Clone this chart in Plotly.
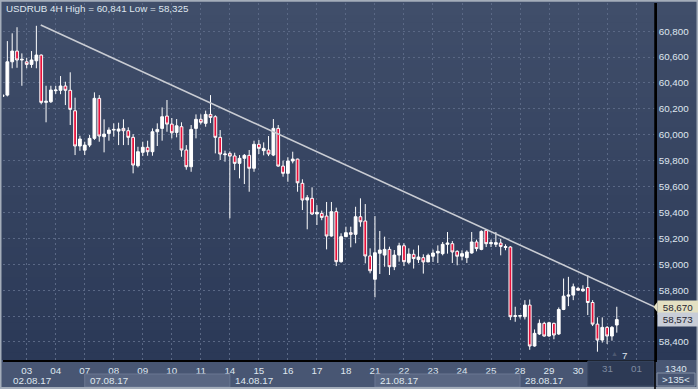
import plotly.graph_objects as go

# ---------------- data (USDRUB, 4H candles, 02.08.17 - 31.08.17) ----------------
opens = [60296, 60306, 60563, 60646, 60577, 60563, 60543, 60571, 60615, 60250,
         60255, 60340, 60343, 60376, 60343, 60185, 59913, 59881, 59920, 59972,
         60281, 59985, 60010, 60036, 60028, 60049, 60031, 59980, 59761, 59864,
         59903, 59869, 60023, 60049, 60144, 60082, 60018, 60062, 59882, 59753,
         60049, 60119, 60088, 60157, 60139, 59980, 59846, 59856, 59836, 59779,
         59818, 59841, 59741, 59926, 59877, 59882, 59843, 60049, 59758, 59702,
         59797, 59812, 59625, 59496, 59509, 59388, 59393, 59372, 59218, 59406,
         59020, 59213, 59244, 59231, 59367, 59334, 59064, 58884, 59085, 59071,
         59115, 58981, 59071, 59143, 59015, 59077, 59036, 59051, 59018, 59062,
         59087, 59082, 59154, 59159, 59100, 59062, 59051, 59087, 59172, 59115,
         59262, 59159, 59154, 59164, 59130, 59133, 58597, 58600, 58595, 58685,
         58369, 58462, 58544, 58446, 58544, 58462, 58651, 58754, 58762, 58813,
         58795, 58821, 58705, 58538, 58415, 58513, 58446, 58531]
highs = [60315, 60723, 60783, 60830, 60628, 60594, 60646, 60841, 60620, 60378,
         60378, 60378, 60453, 60409, 60482, 60286, 59992, 59946, 59998, 60327,
         60306, 60119, 60057, 60088, 60093, 60119, 60057, 60005, 59907, 59946,
         59954, 60049, 60088, 60211, 60268, 60129, 60121, 60096, 59920, 60075,
         60157, 60157, 60186, 60306, 60150, 60036, 59877, 59871, 59861, 59843,
         59851, 59882, 59954, 59959, 59941, 59990, 60121, 60075, 59800, 59826,
         59869, 59815, 59656, 59534, 59594, 59457, 59414, 59481, 59481, 59437,
         59239, 59290, 59290, 59444, 59509, 59465, 59123, 59372, 59257, 59213,
         59136, 59110, 59166, 59162, 59123, 59113, 59146, 59077, 59082, 59113,
         59146, 59172, 59249, 59179, 59108, 59108, 59108, 59249, 59190, 59262,
         59267, 59190, 59249, 59197, 59154, 59140, 58672, 58608, 58723, 58728,
         58497, 58574, 58556, 58556, 58549, 58667, 58890, 58903, 58851, 58826,
         58838, 58915, 58723, 58590, 58590, 58523, 58523, 58672]
lows = [60290, 60296, 60513, 60517, 60378, 60513, 60517, 60513, 60235, 60096,
        60245, 60315, 60313, 60229, 60075, 59843, 59876, 59843, 59904, 59960,
        59946, 59864, 59954, 59985, 59920, 59920, 59920, 59702, 59748, 59835,
        59838, 59838, 59913, 59954, 60023, 59972, 59980, 59830, 59730, 59714,
        59972, 60080, 60062, 60090, 59856, 59805, 59792, 59355, 59727, 59663,
        59619, 59560, 59714, 59851, 59841, 59835, 59835, 59753, 59676, 59637,
        59779, 59560, 59419, 59270, 59380, 59303, 59340, 59115, 59213, 58986,
        59012, 59213, 59131, 59162, 59290, 59007, 58930, 58745, 58925, 58981,
        58917, 58955, 59020, 58986, 59002, 58967, 59010, 58928, 59018, 59018,
        59010, 59069, 59082, 59010, 58992, 59030, 59010, 59082, 59100, 59108,
        59133, 59133, 59133, 59069, 59108, 58569, 58556, 58582, 58574, 58340,
        58364, 58454, 58441, 58441, 58421, 58454, 58646, 58677, 58723, 58795,
        58787, 58608, 58523, 58325, 58395, 58385, 58410, 58472]
closes = [60306, 60563, 60646, 60577, 60582, 60543, 60577, 60615, 60250, 60258,
          60345, 60345, 60376, 60343, 60196, 59913, 59967, 59920, 59972, 60281,
          59990, 60005, 60036, 60041, 60044, 60031, 59980, 59766, 59869, 59903,
          59869, 60023, 60041, 60139, 60082, 60015, 60069, 59882, 59753, 60041,
          60119, 60096, 60157, 60134, 59980, 59851, 59851, 59835, 59779, 59818,
          59841, 59741, 59926, 59895, 59895, 59851, 60049, 59758, 59702, 59797,
          59812, 59629, 59496, 59514, 59388, 59401, 59362, 59218, 59406, 59020,
          59213, 59244, 59231, 59367, 59328, 59064, 58950, 59089, 59110, 59115,
          58981, 59071, 59143, 59020, 59079, 59044, 59056, 59018, 59069, 59087,
          59100, 59154, 59164, 59095, 59062, 59082, 59095, 59172, 59121, 59254,
          59159, 59167, 59167, 59138, 59136, 58595, 58603, 58603, 58685, 58369,
          58467, 58544, 58446, 58549, 58454, 58651, 58754, 58762, 58826, 58800,
          58808, 58705, 58538, 58415, 58513, 58446, 58513, 58573]
bar_index = list(range(len(opens)))

day_start_index = [5, 11, 17, 23, 29, 35, 41, 47, 53, 59, 65, 71, 77, 83, 89,
                   95, 101, 107, 113, 119, 125, 131]
day_labels = ["03", "04", "07", "08", "09", "10", "11", "14", "15", "16", "17",
              "18", "21", "22", "23", "24", "25", "28", "29", "30", "31", "01"]
future_days = ["31", "01"]
week_start_index = [0, 17, 47, 77, 107]
week_end_index = [17, 47, 77, 107, 134.9]
week_labels = ["02.08.17", "07.08.17", "14.08.17", "21.08.17", "28.08.17"]
y_tick_values = [58400, 58600, 58800, 59000, 59200, 59400, 59600, 59800,
                 60000, 60200, 60400, 60600, 60800]
hidden_y_labels = [58600]
trend_x = [7.9, 134.9]
trend_y = [60847, 58670]
trend_tag = 58670
last_price = 58573
title_text = "USDRUB 4H High = 60,841 Low = 58,325"
bars_text = ["1340", ">135<"]
x_range = [0.1, 134.9]
y_range = [58261, 61017]
future_from = 121

# ---------------- geometry / style ----------------
W, H = 698, 389
ML, MR, MT, MB = 3, 43, 3, 29
PW, PH = W - ML - MR, H - MT - MB
FONT = "Liberation Sans"
TXT = "#dfe6ef"


def px(X):
    return (X - ML) / PW


def py(Y):
    return (H - MB - Y) / PH


shapes = []
# background gradient over the chart + right axis zone
top_c = (64, 78, 106)
bot_c = (43, 57, 87)
N = 48
for i in range(N):
    t = i / (N - 1)
    c = tuple(round(top_c[k] + (bot_c[k] - top_c[k]) * t) for k in range(3))
    y0 = (H - MB) * i / N
    y1 = (H - MB) * (i + 1) / N + 0.6
    shapes.append(dict(type="rect", xref="paper", yref="paper", layer="below",
                       x0=px(0), x1=px(W), y0=py(y1), y1=py(y0),
                       fillcolor="rgb(%d,%d,%d)" % c, line_width=0))
# bottom time strip
shapes.append(dict(type="rect", xref="paper", yref="paper", layer="below",
                   x0=px(0), x1=px(W), y0=py(H), y1=py(H - MB),
                   fillcolor="#485673", line_width=0))
# week boxes (lighter alternating)
for k in range(len(week_labels)):
    if k % 2 == 1:
        shapes.append(dict(type="rect", xref="x", yref="paper", layer="above",
                           x0=week_start_index[k], x1=week_end_index[k],
                           y0=py(387), y1=py(374),
                           fillcolor="#596682", line=dict(color="#6a7792", width=1)))
# future zone in time strip
shapes.append(dict(type="rect", xref="x", yref="paper", layer="above",
                   x0=future_from, x1=x_range[1] - 0.2, y0=py(386), y1=py(361),
                   fillcolor="#2d3a55", line=dict(color="#3b4862", width=1)))
# bottom right box
shapes.append(dict(type="rect", xref="paper", yref="paper", layer="above",
                   x0=px(657), x1=px(695), y0=py(386), y1=py(373),
                   fillcolor="rgba(0,0,0,0)", line=dict(color="#8390a6", width=1)))
# outer frame
shapes.append(dict(type="rect", xref="paper", yref="paper", layer="above",
                   x0=px(0.5), x1=px(W - 0.5), y0=py(H - 1), y1=py(0.8),
                   fillcolor="rgba(0,0,0,0)", line=dict(color="#a4adba", width=2)))
# right separator continues through bottom strip
shapes.append(dict(type="line", xref="paper", yref="paper", layer="above",
                   x0=1, x1=1, y0=py(H), y1=1, line=dict(color="black", width=1.5)))
# small pointer on the trend-line price tag
shapes.append(dict(type="path", xref="paper", yref="y", layer="above",
                   path="M %f,%f L %f,%f L %f,%f Z" % (
                       px(653.5), trend_tag, px(657.5), trend_tag + 40,
                       px(657.5), trend_tag - 40),
                   fillcolor="#e4e0c2", line_width=0))

fig = go.Figure()
fig.add_trace(go.Candlestick(
    x=bar_index, open=opens, high=highs, low=lows, close=closes,
    increasing=dict(line=dict(color="white", width=1), fillcolor="white"),
    decreasing=dict(line=dict(color="white", width=1), fillcolor="#e8103a"),
    whiskerwidth=0, hoverinfo="skip", showlegend=False))
fig.add_trace(go.Scatter(x=trend_x, y=trend_y, mode="lines",
                         line=dict(color="#c9ccd3", width=1.6),
                         hoverinfo="skip", showlegend=False))

annotations = [
    dict(text=title_text, xref="paper", yref="paper", x=px(4), y=py(8.5),
         xanchor="left", yanchor="middle", showarrow=False,
         font=dict(family=FONT, size=9.8, color=TXT)),
]
for k, lab in enumerate(week_labels):
    annotations.append(dict(text=lab, xref="x", yref="paper",
                            x=max(week_start_index[k], 1.7), y=py(380),
                            xanchor="left", yanchor="middle", showarrow=False,
                            xshift=3 if k else 0,
                            font=dict(family=FONT, size=9.8, color=TXT)))
for lab in future_days:
    annotations.append(dict(text=lab, xref="x", yref="paper",
                            x=day_start_index[day_labels.index(lab)], y=py(368.5),
                            xanchor="center", yanchor="middle", showarrow=False,
                            font=dict(family=FONT, size=9.8, color="#7f8aa0")))
annotations.append(dict(text=bars_text[0], xref="paper", yref="paper",
                        x=px(676), y=py(368.5), xanchor="center", yanchor="middle",
                        showarrow=False, font=dict(family=FONT, size=9.8, color=TXT)))
annotations.append(dict(text=bars_text[1], xref="paper", yref="paper",
                        x=px(676), y=py(379.5), xanchor="center", yanchor="middle",
                        showarrow=False, font=dict(family=FONT, size=9.8, color=TXT)))
annotations.append(dict(text="7", xref="paper", yref="paper",
                        x=px(624), y=py(355), xanchor="center", yanchor="middle",
                        showarrow=False, font=dict(family=FONT, size=9.8, color=TXT)))
annotations.append(dict(text="▲", xref="paper", yref="paper",
                        x=px(614), y=py(353), xanchor="center", yanchor="middle",
                        showarrow=False, font=dict(family=FONT, size=7, color="#4d5870")))
annotations.append(dict(text=f"{trend_tag:,}", xref="paper", yref="y",
                        x=px(657), y=trend_tag, xanchor="left", yanchor="middle",
                        showarrow=False, bgcolor="#e4e0c2", borderpad=1, width=38,
                        font=dict(family=FONT, size=9.8, color="#1e2430")))
annotations.append(dict(text=f"{last_price:,}", xref="paper", yref="y",
                        x=px(657), y=last_price, xanchor="left", yanchor="middle",
                        showarrow=False, bgcolor="#c8cdd7", borderpad=1, width=38,
                        font=dict(family=FONT, size=9.8, color="#1e2430")))

x_ticktext = ["" if d in future_days else d for d in day_labels]
y_ticktext = ["" if v in hidden_y_labels else f"{v:,}" for v in y_tick_values]

fig.update_layout(
    width=W, height=H,
    margin=dict(l=ML, r=MR, t=MT, b=MB, pad=0),
    paper_bgcolor="#3a4764", plot_bgcolor="rgba(0,0,0,0)",
    showlegend=False, boxgap=0.18, hovermode=False,
    shapes=shapes, annotations=annotations,
    xaxis=dict(range=x_range, tickvals=day_start_index, ticktext=x_ticktext,
               showgrid=True, gridcolor="#5a6885", griddash="2px,3px", gridwidth=1,
               showline=True, linecolor="black", linewidth=1.5, zeroline=False,
               ticks="", tickfont=dict(family=FONT, size=9.8, color=TXT),
               rangeslider=dict(visible=False), fixedrange=True),
    yaxis=dict(range=y_range, side="right", tickvals=y_tick_values,
               ticktext=y_ticktext, showgrid=True, gridcolor="#5a6885",
               griddash="2px,3px", gridwidth=1, showline=True, linecolor="black",
               linewidth=1.5, zeroline=False, ticks="",
               tickfont=dict(family=FONT, size=9.8, color=TXT), fixedrange=True),
)

fig.write_html("out.html", config={"displayModeBar": False},
               post_script="document.body.style.margin='0';"
                           "document.body.style.overflow='hidden';")
